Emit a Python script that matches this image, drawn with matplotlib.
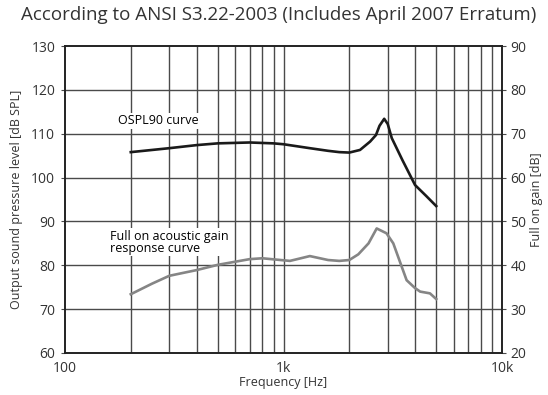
import matplotlib.pyplot as plt
from matplotlib.ticker import FixedLocator, NullFormatter

plt.rcParams['font.family'] = ['Open Sans', 'DejaVu Sans']

# OSPL90 curve [dB SPL]
ospl_freq = [200, 300, 400, 500, 700, 900, 1000, 1320, 1600, 1800, 2000, 2240, 2490, 2650, 2750, 2890, 3000, 3130, 3500, 4000, 4500, 5000]
ospl_level = [105.8, 106.7, 107.4, 107.8, 108.0, 107.8, 107.6, 106.7, 106.1, 105.8, 105.7, 106.3, 108.2, 109.7, 111.8, 113.4, 112.2, 109.0, 104.0, 98.3, 95.8, 93.5]

# Full on acoustic gain response [dB]
gain_freq = [200, 250, 300, 350, 400, 500, 700, 800, 970, 1070, 1320, 1600, 1800, 2000, 2200, 2450, 2670, 2960, 3180, 3400, 3660, 4000, 4220, 4680, 5000]
gain_level = [33.4, 35.8, 37.6, 38.3, 38.9, 40.1, 41.4, 41.6, 41.2, 41.0, 42.1, 41.2, 41.0, 41.2, 42.5, 45.0, 48.4, 47.3, 45.0, 41.0, 36.6, 34.8, 34.0, 33.6, 32.3]

fig = plt.figure(figsize=(5.48, 3.95), dpi=100)
ax = fig.add_axes([65 / 548, 42 / 395, 437 / 548, 307 / 395])
ax2 = ax.twinx()

grid_c = '#4a4a4a'
ax.set_xscale('log')
ax.set_xlim(100, 10000)
ax.set_ylim(60, 130)
ax2.set_ylim(20, 90)

minor = [m * d for d in (100, 1000) for m in range(2, 10)]
ax.xaxis.set_major_locator(FixedLocator([100, 1000, 10000]))
ax.xaxis.set_minor_locator(FixedLocator(minor))
ax.xaxis.set_minor_formatter(NullFormatter())
ax.set_xticklabels(['100', '1k', '10k'])
ax.set_yticks(range(60, 131, 10))
ax2.set_yticks(range(20, 91, 10))

for v in minor + [1000]:
    ax.axvline(v, color=grid_c, lw=1.0, zorder=1)
for v in range(70, 130, 10):
    ax.axhline(v, color=grid_c, lw=1.0, zorder=1)

ax.plot(ospl_freq, ospl_level, color='#1a1a1a', lw=1.9, zorder=3)
ax2.plot(gain_freq, gain_level, color='#858585', lw=1.9, zorder=3)

ax.text(175, 112.9, 'OSPL90 curve', fontsize=9, va='center', ha='left', zorder=4,
        bbox=dict(facecolor='white', edgecolor='none', pad=1.0))
ax.text(160, 85.3, 'Full on acoustic gain\nresponse curve', fontsize=9, va='center', ha='left',
        linespacing=0.9, zorder=4, bbox=dict(facecolor='white', edgecolor='none', pad=1.0))

for a in (ax, ax2):
    for s in a.spines.values():
        s.set_color('#222222')
        s.set_linewidth(1.2)
ax.tick_params(axis='both', which='both', length=0, labelsize=10, colors='#333333', pad=4)
ax.tick_params(axis='y', length=3, color=grid_c)
ax.tick_params(axis='x', which='major', pad=6)
ax2.tick_params(axis='y', length=3, color=grid_c, labelsize=10, labelcolor='#333333', pad=3)

ax.set_xlabel('Frequency [Hz]', fontsize=9, color='#333333', labelpad=0)
ax.set_ylabel('Output sound pressure level [dB SPL]', fontsize=9, color='#333333', labelpad=6)
ax2.set_ylabel('Full on gain [dB]', fontsize=9, color='#333333', labelpad=3)

fig.text(279 / 548, 0.962, 'According to ANSI S3.22-2003 (Includes April 2007 Erratum)',
         ha='center', va='center', fontsize=13.5, color='#333333')

fig.savefig('out.png', dpi=100)
